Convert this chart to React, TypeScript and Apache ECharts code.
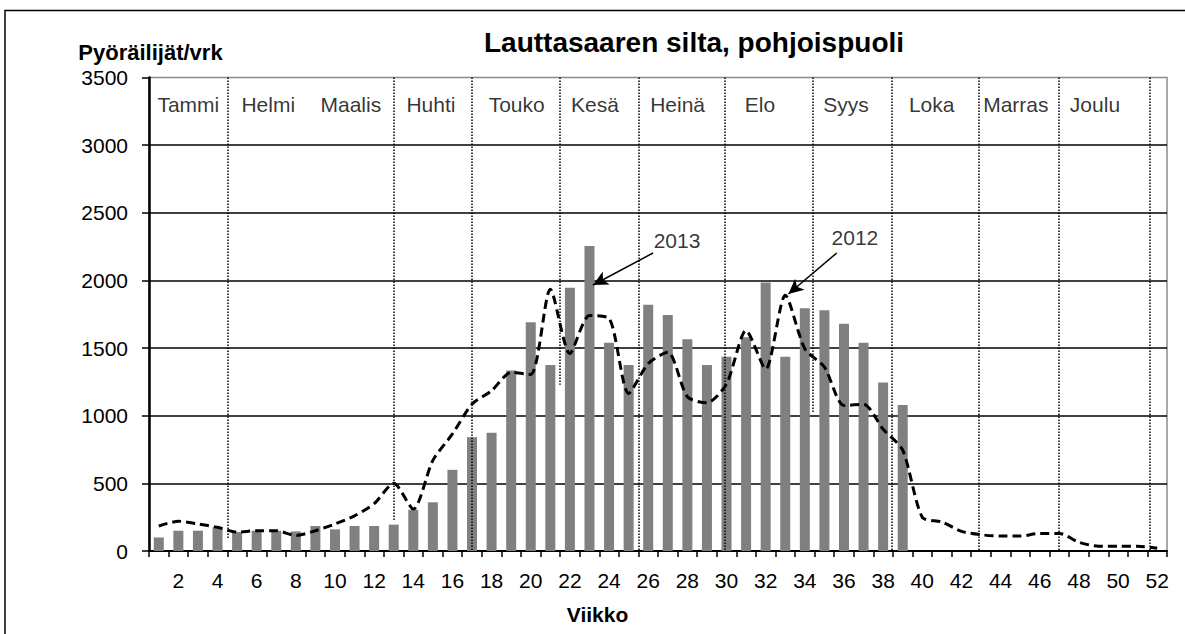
import React, { useEffect, useRef } from "react";
import * as echarts from "echarts";

const weeks = [
  "1","2","3","4","5","6","7","8","9","10","11","12","13","14","15","16","17","18","19","20",
  "21","22","23","24","25","26","27","28","29","30","31","32","33","34","35","36","37","38","39","40",
  "41","42","43","44","45","46","47","48","49","50","51","52",
];

// 2013 bars (weeks 1..39)
const bars2013 = [
  100, 150, 150, 175, 140, 150, 150, 145, 185, 160, 185, 185, 195, 305, 360, 600, 840, 875, 1335, 1690,
  1375, 1945, 2255, 1540, 1375, 1820, 1745, 1565, 1375, 1435, 1580, 1985, 1435, 1795, 1780, 1680, 1540, 1245, 1080,
];

// 2012 dashed line (weeks 1..52)
const line2012 = [
  185, 220, 200, 175, 140, 150, 150, 115, 150, 200, 260, 350, 500, 310, 670, 865, 1085, 1185, 1320, 1305,
  1935, 1460, 1740, 1720, 1165, 1385, 1470, 1140, 1095, 1235, 1630, 1345, 1890, 1495, 1360, 1075, 1085, 900, 745, 250,
  215, 145, 120, 110, 110, 130, 130, 65, 35, 35, 35, 20,
];

const yTicks = { min: 0, max: 3500, interval: 500 };

const monthNames = ["Tammi", "Helmi", "Maalis", "Huhti", "Touko", "Kesä", "Heinä", "Elo", "Syys", "Loka", "Marras", "Joulu"];
const monthLabelX = [2.01, 6.09, 10.31, 14.4, 18.78, 22.78, 27.0, 31.21, 35.6, 39.98, 44.28, 48.32];
const monthLabelY = 3297;

// month separator lines (position in week units from the left edge, bottom end value)
const sepX = [4.02, 12.48, 16.48, 20.97, 25.02, 29.39, 33.93, 37.93, 42.4, 46.46, 51.1];
const sepBottom = [95, 229, 0, 1228, 0, 0, 1021, 0, 0, 0, 0];

const annoNames = ["2013", "2012"];
const annoText = [[26.97, 2295], [36.06, 2319]];
const annoFrom = [[25.75, 2203], [35.13, 2203]];
const annoTo = [[22.68, 1966], [32.66, 1900]];

const FONT = "'Liberation Sans', Arial, Helvetica, sans-serif";

export default function App() {
  const ref = useRef<HTMLDivElement>(null);

  useEffect(() => {
    if (!ref.current) return;
    const chart = echarts.init(ref.current, undefined, { renderer: "svg" });

    const option: any = {
      animation: false,
      backgroundColor: "#ffffff",
      textStyle: { fontFamily: FONT },
      grid: {
        left: 149,
        right: 18,
        top: 77.5,
        bottom: 83,
        show: true,
        borderColor: "#8c8c8c",
        borderWidth: 1.5,
        backgroundColor: "transparent",
      },
      xAxis: [
        {
          type: "category",
          data: weeks,
          boundaryGap: true,
          axisLine: { lineStyle: { color: "#000", width: 2 } },
          axisTick: { show: true, interval: 0, length: 6, lineStyle: { color: "#000", width: 1.5 } },
          axisLabel: {
            interval: (i: number) => i % 2 === 1,
            color: "#000",
            fontSize: 21,
            fontFamily: FONT,
            margin: 19,
          },
          splitLine: { show: false },
        },
        {
          type: "value",
          min: 0,
          max: 52,
          show: false,
          splitLine: { show: false },
        },
      ],
      yAxis: {
        type: "value",
        min: yTicks.min,
        max: yTicks.max,
        interval: yTicks.interval,
        axisLine: { show: true, lineStyle: { color: "#000", width: 2.5 } },
        axisTick: { show: true, length: 7, lineStyle: { color: "#000", width: 1.5 } },
        axisLabel: {
          color: "#000",
          fontSize: 21,
          fontFamily: FONT,
          margin: 21,
          formatter: (v: number) => String(v),
        },
        splitLine: { show: true, showMaxLine: false, lineStyle: { color: "#000", width: 1.5 } },
      },
      graphic: [
        {
          type: "rect",
          silent: true,
          shape: { x: 5, y: 10.5, width: 1200, height: 700 },
          style: { fill: "none", stroke: "#000", lineWidth: 1.5 },
        },
        {
          type: "text",
          x: 694,
          y: 42.5,
          style: {
            text: "Lauttasaaren silta, pohjoispuoli",
            font: `bold 28px ${FONT}`,
            fill: "#000",
            align: "center",
            verticalAlign: "middle",
          },
        },
        {
          type: "text",
          x: 150.5,
          y: 52.5,
          style: {
            text: "Pyöräilijät/vrk",
            font: `bold 22px ${FONT}`,
            fill: "#000",
            align: "center",
            verticalAlign: "middle",
          },
        },
        {
          type: "text",
          x: 597.5,
          y: 614,
          style: {
            text: "Viikko",
            font: `bold 21px ${FONT}`,
            fill: "#000",
            align: "center",
            verticalAlign: "middle",
          },
        },
      ],
      series: [
        {
          name: "2013",
          type: "bar",
          xAxisIndex: 0,
          yAxisIndex: 0,
          data: bars2013,
          barWidth: 10,
          itemStyle: { color: "#808080" },
          silent: true,
        },
        {
          name: "2012",
          type: "line",
          xAxisIndex: 0,
          yAxisIndex: 0,
          data: line2012,
          smooth: 0.25,
          showSymbol: false,
          symbol: "none",
          lineStyle: { color: "#000", width: 3, type: [9, 5] },
          silent: true,
          z: 3,
        },
        {
          name: "months",
          type: "scatter",
          xAxisIndex: 1,
          yAxisIndex: 0,
          symbolSize: 0,
          silent: true,
          data: monthNames.map((n, i) => ({ name: n, value: [monthLabelX[i], monthLabelY] })),
          label: {
            show: true,
            position: "inside",
            formatter: "{b}",
            color: "#000",
            fontSize: 21,
            fontFamily: FONT,
          },
          markLine: {
            silent: true,
            symbol: ["none", "none"],
            label: { show: false },
            lineStyle: { color: "#000", width: 1.5, type: [1.5, 1.5] },
            data: sepX.map((x, i) => [
              { coord: [x, yTicks.max] },
              { coord: [x, sepBottom[i]] },
            ]),
          },
          z: 4,
        },
        {
          name: "annotations",
          type: "scatter",
          xAxisIndex: 1,
          yAxisIndex: 0,
          symbolSize: 0,
          silent: true,
          data: annoNames.map((n, i) => ({ name: n, value: annoText[i] })),
          label: {
            show: true,
            position: "inside",
            formatter: "{b}",
            color: "#000",
            fontSize: 21,
            fontFamily: FONT,
          },
          markLine: {
            silent: true,
            symbol: ["none", "arrow"],
            symbolSize: [11, 15],
            label: { show: false },
            lineStyle: { color: "#000", width: 1.5, type: "solid" },
            data: annoNames.map((_, i) => [
              { coord: annoFrom[i] },
              { coord: annoTo[i] },
            ]),
          },
          z: 5,
        },
      ],
    };

    chart.setOption(option);
    return () => chart.dispose();
  }, []);

  return (
    <div
      ref={ref}
      style={{ position: "fixed", left: 0, top: 0, width: 1185, height: 634, background: "#fff" }}
    />
  );
}
